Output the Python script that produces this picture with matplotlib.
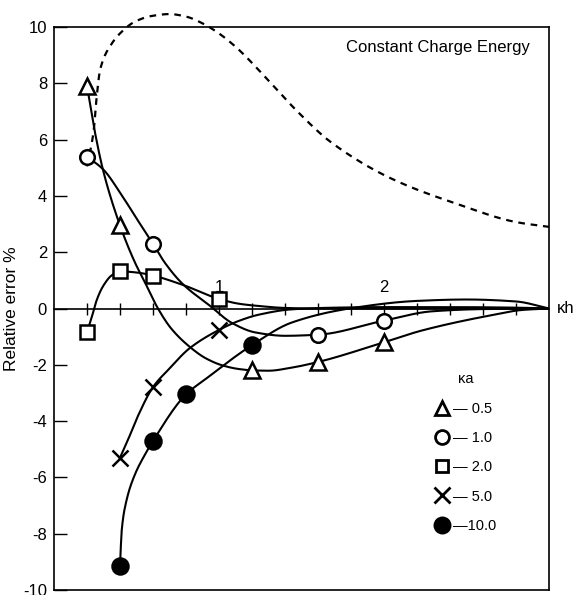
import numpy as np
import matplotlib
matplotlib.use("Agg")
import matplotlib.pyplot as plt
from matplotlib.lines import Line2D

plt.rcParams['font.family'] = ['Liberation Sans', 'DejaVu Sans']
plt.rcParams['axes.unicode_minus'] = False

# valori dei marker (kappa*h, errore relativo %)
ka_labels = ['0.5', '1.0', '2.0', '5.0', '10.0']

tri_x = [0.2, 0.4, 1.2, 1.6, 2.0]
tri_y = [7.9, 2.95, -2.2, -1.9, -1.2]
circ_x = [0.2, 0.6, 1.6, 2.0]
circ_y = [5.4, 2.3, -0.93, -0.43]
sq_x = [0.2, 0.4, 0.6, 1.0]
sq_y = [-0.85, 1.32, 1.17, 0.34]
cross_x = [0.4, 0.6, 1.0]
cross_y = [-5.3, -2.79, -0.76]
dot_x = [0.4, 0.6, 0.8, 1.2]
dot_y = [-9.15, -4.7, -3.05, -1.3]

# punti letti lungo le curve continue
tri_cx = [0.2, 0.25, 0.3, 0.4, 0.49, 0.55, 0.63, 0.71, 0.82, 0.92, 1.02, 1.12, 1.21, 1.3,
          1.44, 1.6, 2.0, 2.23, 2.64, 2.84, 3.0]
tri_cy = [7.9, 6.2, 4.85, 2.95, 1.64, 0.94, 0.0, -0.71, -1.35, -1.77, -2.02, -2.15, -2.2, -2.21,
          -2.1, -1.9, -1.2, -0.78, -0.25, -0.05, 0.0]
circ_cx = [0.2, 0.3, 0.4, 0.5, 0.6, 0.67, 0.78, 0.94, 1.08, 1.22, 1.4, 1.6, 2.0, 2.29, 2.6, 3.0]
circ_cy = [5.4, 4.93, 4.12, 3.2, 2.3, 1.64, 0.87, 0.12, -0.52, -0.85, -0.97, -0.93, -0.43, -0.1,
           -0.02, 0.0]
sq_cx = [0.2, 0.23, 0.26, 0.3, 0.35, 0.4, 0.5, 0.6, 0.78, 1.0, 1.12, 1.24, 1.4, 1.6, 2.0, 2.5, 3.0]
sq_cy = [-0.85, -0.28, 0.32, 0.82, 1.18, 1.32, 1.28, 1.17, 0.84, 0.34, 0.17, 0.09, 0.02, 0.0,
         0.0, 0.0, 0.0]
cross_cx = [0.4, 0.45, 0.51, 0.6, 0.7, 0.82, 1.0, 1.12, 1.24, 1.44, 1.7, 2.0, 2.4, 2.8, 3.0]
cross_cy = [-5.3, -4.64, -3.8, -2.79, -2.13, -1.42, -0.76, -0.44, -0.22, -0.03, 0.03, 0.05,
            0.05, 0.03, 0.0]
dot_cx = [0.4, 0.41, 0.44, 0.49, 0.55, 0.6, 0.8, 0.92, 1.2, 1.44, 1.79, 2.2, 2.5, 2.8, 3.0]
dot_cy = [-9.15, -7.9, -6.8, -5.9, -5.2, -4.7, -3.05, -2.5, -1.3, -0.5, 0.0, 0.27, 0.32,
          0.25, 0.0]

# curva tratteggiata
dash_x = [0.2, 0.24, 0.26, 0.28, 0.35, 0.41, 0.49, 0.59, 0.7, 0.8, 0.9, 1.0, 1.1, 1.3, 1.48,
          1.68, 2.05, 2.45, 2.8, 3.0]
dash_y = [5.05, 6.3, 7.6, 8.5, 9.41, 9.83, 10.19, 10.39, 10.46, 10.37, 10.13, 9.77, 9.3, 8.1,
          6.97, 5.9, 4.6, 3.7, 3.07, 2.9]


def pchip(xk, yk, n=500):
    # interpolazione cubica monotona (Fritsch-Carlson)
    xk = np.asarray(xk, float)
    yk = np.asarray(yk, float)
    h = np.diff(xk)
    d = np.diff(yk) / h
    m = np.zeros_like(yk)
    for i in range(1, len(xk) - 1):
        if d[i - 1] * d[i] > 0:
            w1 = 2 * h[i] + h[i - 1]
            w2 = h[i] + 2 * h[i - 1]
            m[i] = (w1 + w2) / (w1 / d[i - 1] + w2 / d[i])
    m[0] = d[0]
    m[-1] = d[-1]
    xs = np.linspace(xk[0], xk[-1], n)
    idx = np.clip(np.searchsorted(xk, xs) - 1, 0, len(xk) - 2)
    hh = h[idx]
    t = (xs - xk[idx]) / hh
    h00 = 2 * t**3 - 3 * t**2 + 1
    h10 = t**3 - 2 * t**2 + t
    h01 = -2 * t**3 + 3 * t**2
    h11 = t**3 - t**2
    ys = h00 * yk[idx] + h10 * hh * m[idx] + h01 * yk[idx + 1] + h11 * hh * m[idx + 1]
    return xs, ys


fig = plt.figure(figsize=(5.77, 5.95), dpi=100)
ax = fig.add_axes([0.0936, 0.0084, 0.858, 0.9462])

lw = 1.5
series = [
    (tri_cx, tri_cy, tri_x, tri_y, dict(marker='^', mfc='white', ms=11)),
    (circ_cx, circ_cy, circ_x, circ_y, dict(marker='o', mfc='white', ms=10.5)),
    (sq_cx, sq_cy, sq_x, sq_y, dict(marker='s', mfc='white', ms=9.5)),
    (cross_cx, cross_cy, cross_x, cross_y, dict(marker='x', mfc='black', ms=12)),
    (dot_cx, dot_cy, dot_x, dot_y, dict(marker='o', mfc='black', ms=11.5)),
]

handles = []
for cx, cy, mx, my, st in series:
    xs, ys = pchip(cx, cy)
    ax.plot(xs, ys, color='black', lw=lw, zorder=2)
    ax.plot(mx, my, linestyle='none', color='black', mec='black', mew=1.8, zorder=3, **st)
    handles.append(Line2D([], [], linestyle='none', color='black', mec='black', mew=2.0,
                          marker=st['marker'], mfc=st['mfc'], ms=st['ms'] * 0.95))

xs, ys = pchip(dash_x, dash_y)
ax.plot(xs, ys, color='black', lw=1.6, linestyle=(0, (3, 2.6)), clip_on=False, zorder=2)

ax.set_xlim(0, 3)
ax.set_ylim(-10, 10)

# asse x sulla linea dello zero, etichette sopra
ax.spines['top'].set_position(('data', 0))
ax.spines['top'].set_linewidth(1.2)
ax.xaxis.set_ticks_position('top')
xt = np.arange(0.2, 2.9, 0.2)
ax.set_xticks(xt)
ax.set_xticklabels(['1' if abs(v - 1) < 1e-6 else '2' if abs(v - 2) < 1e-6 else '' for v in xt])
ax.tick_params(axis='x', direction='inout', length=9, width=1, labelsize=12, pad=5)
ax.axhline(10, color='black', lw=1.2, clip_on=False, zorder=1)

ax.set_yticks(np.arange(-10, 11, 2))
ax.tick_params(axis='y', direction='in', length=9, width=1, labelsize=12, pad=5)
for s in ['left', 'right', 'bottom']:
    ax.spines[s].set_linewidth(1.2)

ax.set_ylabel('Relative error %', fontsize=12.5)
ax.yaxis.set_label_coords(-0.071, 0.5)
ax.text(1.015, 0.5, 'κh', transform=ax.transAxes, fontsize=12, va='center', ha='left')
ax.text(0.962, 0.963, 'Constant Charge Energy', transform=ax.transAxes,
        fontsize=12, ha='right', va='center')

leg = ax.legend(handles, ['— 0.5', '— 1.0', '— 2.0', '— 5.0', '—10.0'],
                title='κa', loc='upper left', bbox_to_anchor=(0.742, 0.41),
                frameon=False, fontsize=10.5, title_fontsize=10.5,
                handlelength=1.0, handletextpad=0.3, labelspacing=1.05)

fig.savefig('out.png', dpi=100)
